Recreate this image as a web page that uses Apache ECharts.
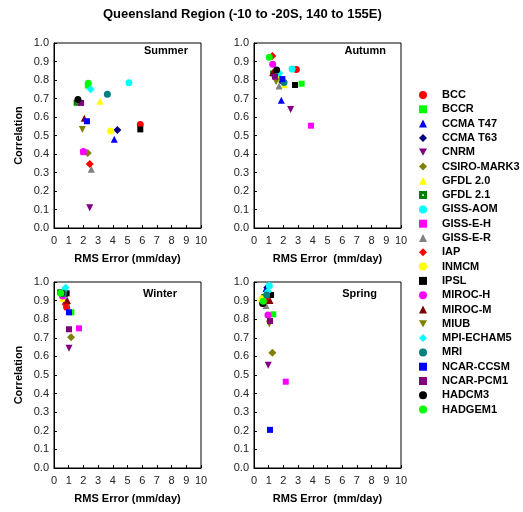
<!DOCTYPE html>
<html><head><meta charset="utf-8">
<script src="https://cdn.jsdelivr.net/npm/echarts@6/dist/echarts.min.js"></script>
<style>html,body{margin:0;padding:0;background:#fff}#c{width:523px;height:512px}</style>
</head><body><div id="c"></div>
<script>
const models = ["BCC","BCCR","CCMA T47","CCMA T63","CNRM","CSIRO-MARK3","GFDL 2.0","GFDL 2.1","GISS-AOM","GISS-E-H","GISS-E-R","IAP","INMCM","IPSL","MIROC-H","MIROC-M","MIUB","MPI-ECHAM5","MRI","NCAR-CCSM","NCAR-PCM1","HADCM3","HADGEM1"];
const seasons = ["Summer","Autumn","Winter","Spring"];
// [RMS error (mm/day), correlation] per model, in model order
const summer = [[5.87,0.56],[2.3,0.77],[4.1,0.48],[4.31,0.53],[2.43,0.11],[2.29,0.405],[3.13,0.685],[1.54,0.677],[5.1,0.785],[2.0,0.41],[2.54,0.317],[2.43,0.346],[3.86,0.524],[5.87,0.533],[2.0,0.413],[2.06,0.593],[1.93,0.533],[2.49,0.75],[3.63,0.723],[2.24,0.577],[1.84,0.676],[1.63,0.695],[2.33,0.782]];
const autumn = [[2.88,0.857],[3.24,0.78],[1.86,0.69],[1.8,0.8],[2.49,0.64],[1.35,0.83],[2.05,0.775],[1.3,0.835],[2.59,0.859],[3.88,0.553],[1.7,0.768],[1.25,0.93],[1.7,0.81],[2.79,0.773],[1.27,0.885],[1.27,0.84],[1.5,0.79],[1.72,0.836],[2.04,0.786],[1.93,0.805],[1.43,0.818],[1.54,0.854],[1.04,0.923]];
const winter = [[0.86,0.864],[1.18,0.837],[0.8,0.9],[0.75,0.93],[1.02,0.644],[1.16,0.703],[0.58,0.91],[0.42,0.945],[0.7,0.95],[1.7,0.751],[0.86,0.889],[0.8,0.88],[0.6,0.92],[0.86,0.939],[0.59,0.925],[0.91,0.9],[0.7,0.935],[0.79,0.969],[0.65,0.94],[1.02,0.837],[1.02,0.746],[0.5,0.94],[0.46,0.939]];
const spring = [[0.9,0.93],[1.31,0.826],[0.82,0.965],[0.9,0.97],[0.97,0.552],[1.25,0.62],[0.5,0.915],[0.7,0.92],[1.04,0.98],[2.16,0.464],[0.82,0.873],[0.9,0.9],[0.55,0.91],[1.16,0.93],[0.95,0.823],[1.09,0.9],[1.04,0.774],[0.95,0.95],[0.86,0.93],[1.09,0.205],[1.09,0.79],[0.59,0.885],[0.63,0.897]];
const xTicks = ["0","1","2","3","4","5","6","7","8","9","10"];
const yTicks = ["0.0","0.1","0.2","0.3","0.4","0.5","0.6","0.7","0.8","0.9","1.0"];

const seasonData = [summer, autumn, winter, spring];
const FONT = "'Liberation Sans', Arial, sans-serif";
const INV = 'path://M0,0L10,0L5,9Z';
const HOLLOW = 'path://M0,0H10V10H0Z M4,4V6H6V4Z';
const styles = {
 "BCC":["circle","#ff0000",7],"BCCR":["rect","#00ff00",6],"CCMA T47":["triangle","#0000ff",7],"CCMA T63":["diamond","#000080",8],
 "CNRM":[INV,"#800080",7],"CSIRO-MARK3":["diamond","#808000",8],"GFDL 2.0":["triangle","#ffff00",7],"GFDL 2.1":[HOLLOW,"#008000",6],
 "GISS-AOM":["circle","#00ffff",7],"GISS-E-H":["rect","#ff00ff",6],"GISS-E-R":["triangle","#808080",7],"IAP":["diamond","#ff0000",8],
 "INMCM":["circle","#ffff00",7],"IPSL":["rect","#000000",6],"MIROC-H":["circle","#ff00ff",7],"MIROC-M":["triangle","#800000",7],
 "MIUB":[INV,"#808000",7],"MPI-ECHAM5":["diamond","#00ffff",8],"MRI":["circle","#008080",7],"NCAR-CCSM":["rect","#0000ff",6],
 "NCAR-PCM1":["rect","#800080",6],"HADCM3":["circle","#000000",7],"HADGEM1":["circle","#00ff00",7]
};
const grids = [
 {left:54, top:43, width:147, height:185},
 {left:254, top:43, width:147, height:185},
 {left:54, top:282, width:147, height:186},
 {left:254, top:282, width:147, height:186}
];
const xAxes = [], yAxes = [];
grids.forEach((g,i)=>{
 xAxes.push({gridIndex:i, type:'value', min:0, max:10, interval:1,
   name: (i%2===0)?'RMS Error (mm/day)':'RMS Error  (mm/day)', nameLocation:'middle', nameGap:25,
   nameTextStyle:{fontFamily:FONT, fontWeight:'bold', fontSize:11, color:'#000'},
   axisLine:{lineStyle:{color:'#000', width:1}}, axisTick:{inside:true, length:3, lineStyle:{color:'#000'}},
   axisLabel:{formatter:(v)=>xTicks[Math.round(v)], fontFamily:FONT, fontSize:11, color:'#222', margin:7},
   splitLine:{show:false}});
 yAxes.push({gridIndex:i, type:'value', min:0, max:1, interval:0.1,
   name: (i%2===0)?'Correlation':'', nameLocation:'middle', nameGap:30,
   nameTextStyle:{fontFamily:FONT, fontWeight:'bold', fontSize:11, color:'#000'},
   axisLine:{lineStyle:{color:'#000', width:1}}, axisTick:{inside:true, length:3, lineStyle:{color:'#000'}},
   axisLabel:{formatter:(v)=>yTicks[Math.round(v*10)], fontFamily:FONT, fontSize:11, color:'#222', margin:5},
   splitLine:{show:false}});
});
const series = [];
seasonData.forEach((arr, si)=>{
 models.forEach((m, mi)=>{
   const st = styles[m];
   series.push({type:'scatter', name:m, xAxisIndex:si, yAxisIndex:si,
     symbol:st[0], symbolSize:st[2], itemStyle:{color:st[1], opacity:1},
     emphasis:{disabled:true}, silent:true, animation:false,
     data:[arr[mi]]});
 });
});
const titles = [
 {text:'Queensland Region (-10 to -20S, 140 to 155E)', left:103, top:8, textStyle:{fontFamily:FONT, fontWeight:'bold', fontSize:13, color:'#000'}},
 {text:'Summer', right:523-188, top:45, textStyle:{fontFamily:FONT, fontWeight:'bold', fontSize:11, color:'#000'}},
 {text:'Autumn', right:523-386, top:45, textStyle:{fontFamily:FONT, fontWeight:'bold', fontSize:11, color:'#000'}},
 {text:'Winter', right:523-177, top:288, textStyle:{fontFamily:FONT, fontWeight:'bold', fontSize:11, color:'#000'}},
 {text:'Spring', right:523-377, top:288, textStyle:{fontFamily:FONT, fontWeight:'bold', fontSize:11, color:'#000'}}
];
titles.forEach(t=>{t.padding=0;});
const chart = echarts.init(document.getElementById('c'), null, {renderer:'canvas'});
chart.setOption({
 animation:false,
 backgroundColor:'#fff',
 title: titles,
 grid: grids.map(g=>Object.assign({show:true, borderColor:'#000', borderWidth:1, backgroundColor:'transparent'}, g)),
 xAxis: xAxes, yAxis: yAxes,
 legend:{orient:'vertical', left:419, top:89.5, itemWidth:8, itemHeight:8, itemGap:3.3, padding:0,
   data: models,
   textStyle:{fontFamily:FONT, fontWeight:'bold', fontSize:11, color:'#000', padding:[0,0,0,10]},
   selectedMode:false},
 series: series
});
</script></body></html>
